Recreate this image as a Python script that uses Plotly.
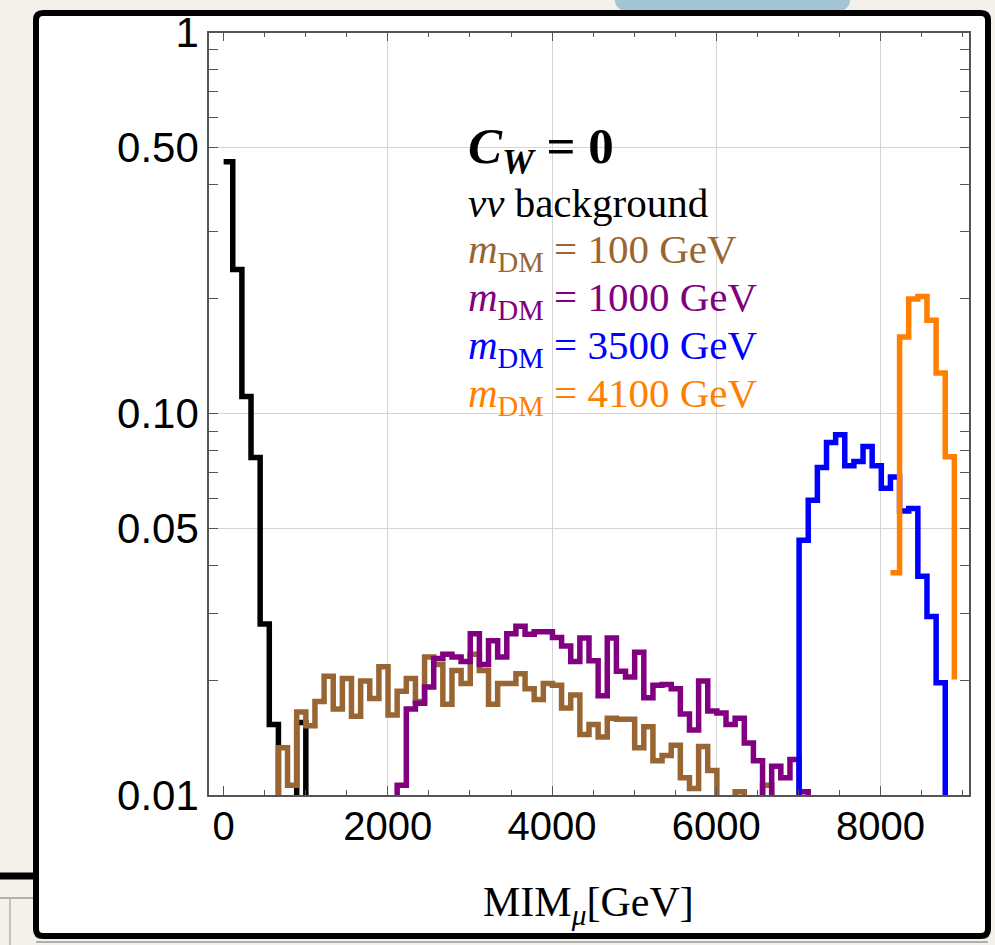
import plotly.graph_objects as go

# Histogram binning: 80 equal bins over 0 .. 8900 GeV
BIN_WIDTH = 111.25

# Normalised MIM_mu distributions (per bin), first bin index + bin contents.
# Entries below 0.01 fall under the plotted range.
bkg_start = 0
bkg_vals = [0.458, 0.239, 0.111, 0.0768, 0.0281, 0.0153, 0.006, 0.006, 0.0155, 0.005]

dm100_start = 5
dm100_vals = [0.005, 0.0133, 0.0106, 0.0165, 0.0152, 0.0176, 0.0205, 0.0168, 0.0202,
              0.0161, 0.0199, 0.0179, 0.0217, 0.0162, 0.0187, 0.0202, 0.0176, 0.0230,
              0.0220, 0.0173, 0.0212, 0.0196, 0.0234, 0.0212, 0.0173, 0.0196, 0.0196,
              0.0208, 0.0190, 0.0178, 0.0196, 0.0194, 0.0169, 0.0183, 0.0144, 0.0153,
              0.0142, 0.0159, 0.0158, 0.0158, 0.0133, 0.0151, 0.0123, 0.0127, 0.0135,
              0.0111, 0.0104, 0.0134, 0.0116, 0.006, 0.006, 0.0102, 0.006, 0.006,
              0.0106, 0.005]

dm1000_start = 18
dm1000_vals = [0.005, 0.0106, 0.0168, 0.0174, 0.0192, 0.0228, 0.0234, 0.0230, 0.0224,
               0.0265, 0.0220, 0.0254, 0.0230, 0.0265, 0.0277, 0.0264, 0.0268, 0.0268,
               0.0259, 0.0246, 0.0224, 0.0258, 0.0225, 0.0182, 0.0258, 0.0211, 0.0204,
               0.0237, 0.0180, 0.0194, 0.0195, 0.0190, 0.0163, 0.0148, 0.0199, 0.0166,
               0.0164, 0.0153, 0.0159, 0.0137, 0.0123, 0.006, 0.0119, 0.0111, 0.0124,
               0.0102, 0.005]

dm3500_start = 62
dm3500_vals = [0.005, 0.0466, 0.0593, 0.0723, 0.0841, 0.0881, 0.0730, 0.0749, 0.0821,
               0.0730, 0.0638, 0.0683, 0.0556, 0.0564, 0.0375, 0.0294, 0.0197, 0.005]

dm4100_start = 73
dm4100_vals = [0.0383, 0.159, 0.200, 0.203, 0.176, 0.128, 0.0771, 0.0201]

series = [
    ("νν background", bkg_start, bkg_vals, "#000000"),
    ("m_DM = 100 GeV", dm100_start, dm100_vals, "#996633"),
    ("m_DM = 1000 GeV", dm1000_start, dm1000_vals, "#800080"),
    ("m_DM = 3500 GeV", dm3500_start, dm3500_vals, "#0000ff"),
    ("m_DM = 4100 GeV", dm4100_start, dm4100_vals, "#ff8000"),
]

x_tickvals = [0, 2000, 4000, 6000, 8000]
x_ticktext = ["0", "2000", "4000", "6000", "8000"]
x_minor = [v for v in range(500, 9001, 500) if v % 2000 != 0]
x_gridvals = [2000, 4000, 6000, 8000]
y_tickvals = [0.01, 0.05, 0.1, 0.5, 1]
y_ticktext = ["0.01", "0.05", "0.10", "0.50", "1"]
y_minor = [0.02, 0.03, 0.04, 0.06, 0.07, 0.08, 0.09, 0.2, 0.3, 0.4, 0.6, 0.7, 0.8, 0.9]

W, H = 995, 945


def fx(p):
    return p / W


def fy(p):
    return 1 - p / H


fig = go.Figure()
for name, start, vals, color in series:
    xs = [(start + i) * BIN_WIDTH for i in range(len(vals))]
    fig.add_trace(go.Scatter(x=xs, y=vals, mode="lines", name=name,
                             line=dict(color=color, width=5.5, shape="hv"),
                             hoverinfo="skip"))

# invisible trace carrying the vertical grid axis
fig.add_trace(go.Scatter(x=[0], y=[0.1], xaxis="x2", mode="markers",
                         marker=dict(opacity=0), hoverinfo="skip", showlegend=False))

axis_col = "#555555"
grid_col = "#d4d4d4"
x_tick_font = dict(family="Liberation Sans", size=40, color="#000000")
y_tick_font = dict(family="Liberation Sans", size=42, color="#000000")

fig.update_layout(
    width=W, height=H, autosize=False,
    margin=dict(l=0, r=0, t=0, b=0, pad=0),
    paper_bgcolor="#f4f1ea",
    plot_bgcolor="rgba(0,0,0,0)",
    showlegend=False,
    xaxis=dict(
        domain=[fx(209), fx(969)], range=[-178, 9078], automargin=False,
        showline=True, linecolor=axis_col, linewidth=1.5, mirror="allticks",
        tickmode="array", tickvals=x_tickvals, ticktext=x_ticktext,
        ticks="inside", ticklen=9, tickcolor=axis_col, tickwidth=1.2,
        minor=dict(tickmode="array", tickvals=x_minor, ticks="inside", ticklen=5,
                   tickcolor=axis_col, tickwidth=1.2, showgrid=False),
        showgrid=False, zeroline=False, tickfont=x_tick_font,
        ticklabelstandoff=-5,
    ),
    xaxis2=dict(
        overlaying="x", matches="x", domain=[fx(209), fx(969)], automargin=False,
        tickmode="array", tickvals=x_gridvals, showticklabels=False, ticks="",
        showgrid=True, gridcolor=grid_col, gridwidth=1, zeroline=False, showline=False,
    ),
    yaxis=dict(
        domain=[fy(795), fy(32.5)], type="log", range=[-2, 0], automargin=False,
        showline=True, linecolor=axis_col, linewidth=1.5, mirror="allticks",
        tickmode="array", tickvals=y_tickvals, ticktext=y_ticktext,
        ticks="inside", ticklen=9, tickcolor=axis_col, tickwidth=1.2,
        minor=dict(tickmode="array", tickvals=y_minor, ticks="inside", ticklen=5,
                   tickcolor=axis_col, tickwidth=1.2, showgrid=False),
        showgrid=True, gridcolor=grid_col, gridwidth=1, zeroline=False,
        tickfont=y_tick_font, ticklabelstandoff=0,
    ),
)


def rounded_rect(x0, y0, x1, y1, r):
    return (f"M {fx(x0 + r)} {fy(y0)} L {fx(x1 - r)} {fy(y0)} "
            f"Q {fx(x1)} {fy(y0)} {fx(x1)} {fy(y0 + r)} "
            f"L {fx(x1)} {fy(y1 - r)} Q {fx(x1)} {fy(y1)} {fx(x1 - r)} {fy(y1)} "
            f"L {fx(x0 + r)} {fy(y1)} Q {fx(x0)} {fy(y1)} {fx(x0)} {fy(y1 - r)} "
            f"L {fx(x0)} {fy(y0 + r)} Q {fx(x0)} {fy(y0)} {fx(x0 + r)} {fy(y0)} Z")


shapes = [
    # pale blue tab peeking above the frame
    dict(type="path", xref="paper", yref="paper", layer="below",
         path=(f"M {fx(615)} {fy(-5)} L {fx(615)} {fy(2)} Q {fx(618)} {fy(14)} {fx(640)} {fy(14)} "
               f"L {fx(825)} {fy(14)} Q {fx(847)} {fy(14)} {fx(850)} {fy(2)} L {fx(850)} {fy(-5)} Z"),
         fillcolor="#a3c4d3", line=dict(width=0)),
    # faint second edge under the frame
    dict(type="line", xref="paper", yref="paper", layer="below",
         x0=fx(36), x1=fx(988), y0=fy(942), y1=fy(942),
         line=dict(color="#9a9a9a", width=1.5)),
    # neighbouring panel edges on the left
    dict(type="line", xref="paper", yref="paper", layer="below",
         x0=fx(0), x1=fx(36), y0=fy(876), y1=fy(876),
         line=dict(color="#000000", width=7)),
    dict(type="line", xref="paper", yref="paper", layer="below",
         x0=fx(0), x1=fx(36), y0=fy(898), y1=fy(898),
         line=dict(color="#9a9a9a", width=1.5)),
    dict(type="line", xref="paper", yref="paper", layer="below",
         x0=fx(10), x1=fx(10), y0=fy(898), y1=fy(945),
         line=dict(color="#b0b0b0", width=1.5)),
    # white panel with heavy black frame
    dict(type="path", xref="paper", yref="paper", layer="below",
         path=rounded_rect(36, 13, 988, 936, 7),
         fillcolor="#ffffff", line=dict(color="#000000", width=6)),
]
fig.update_layout(shapes=shapes)

serif = "Liberation Serif"
labels = [
    ("<b><i>C</i><sub><i>W</i></sub> = 0</b>", "#000000", 51, 150),
    ("<i>νν</i> background", "#000000", 41, 203),
    ("<i>m</i><sub>DM</sub> = 100 GeV", "#996633", 41, 252),
    ("<i>m</i><sub>DM</sub> = 1000 GeV", "#800080", 41, 300),
    ("<i>m</i><sub>DM</sub> = 3500 GeV", "#0000ff", 41, 348),
    ("<i>m</i><sub>DM</sub> = 4100 GeV", "#ff8000", 41, 396),
]
for text, color, size, ypx in labels:
    fig.add_annotation(xref="paper", yref="paper", x=fx(466), y=fy(ypx),
                       xanchor="left", yanchor="middle", showarrow=False,
                       text=text, font=dict(family=serif, size=size, color=color))

# horizontal axis title
fig.add_annotation(xref="paper", yref="paper", x=fx(588), y=fy(905),
                   xanchor="center", yanchor="middle", showarrow=False,
                   text="MIM<sub><i>μ</i></sub>[GeV]",
                   font=dict(family=serif, size=42, color="#000000"))

fig.write_html("out.html")
